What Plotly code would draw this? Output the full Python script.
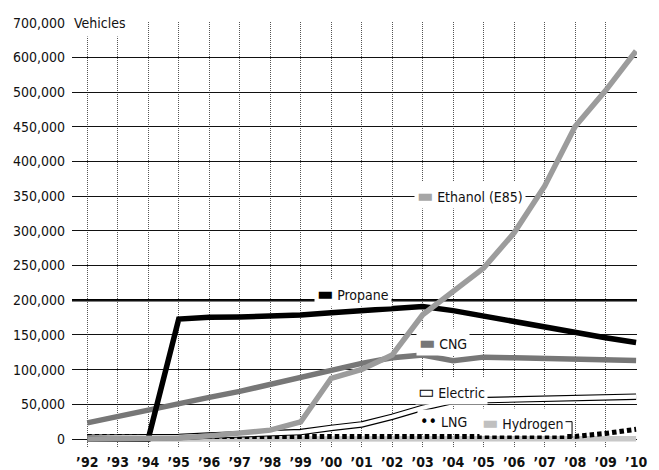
import plotly.graph_objects as go

# ---------------- data ----------------
years = list(range(1992, 2011))
year_labels = ["’92", "’93", "’94", "’95", "’96", "’97", "’98", "’99", "’00", "’01",
               "’02", "’03", "’04", "’05", "’06", "’07", "’08", "’09", "’10"]

propane = [0, 0, 0, 172800, 175500, 176000, 177200, 178600, 182000, 185000,
           187700, 191000, 185000, 177000, 168000, 161000, 154000, 146000, 139000]
cng = [23200, 32700, 41200, 50200, 60100, 68600, 78800, 89000, 98000, 109000,
       117000, 121000, 113000, 118000, 117000, 116000, 115000, 114000, 113000]
ethanol = [172, 441, 605, 1527, 4536, 9130, 12788, 24604, 87570, 100303,
           120951, 179090, 211800, 246363, 297099, 364384, 450327, 504297, 618505]
electric = [2000, 2000, 2500, 3000, 5000, 7000, 8000, 10000, 16000, 21000,
            32000, 45000, 55000, 56000, 57000, 58000, 59000, 60000, 61000]
lng = [3500, 3500, 3500, 3500, 3500, 3500, 3500, 3500, 3500, 3500,
       3500, 3500, 3500, 3500, 3500, 3600, 3800, 8000, 14000]
hydrogen = [0, 0, 0, 0, 0, 0, 0, 0, 0, 0,
            0, 9, 119, 159, 223, 313, 357, 357, 421]

y_tick_values = [0, 50000, 100000, 150000, 200000, 250000, 300000, 350000,
                 400000, 450000, 500000, 600000, 700000]
y_tick_labels = ["0", "50,000", "100,000", "150,000", "200,000", "250,000", "300,000",
                 "350,000", "400,000", "450,000", "500,000", "600,000", "700,000"]


def scale(v):
    """Axis scale of the original: 50,000 per gridline up to 500,000, 100,000 above."""
    if v <= 500000:
        return v / 50000.0
    return 10.0 + (v - 500000) / 100000.0


def sc(values):
    return [scale(v) for v in values]


FONT = "DejaVu Sans Condensed, Liberation Sans Narrow, sans-serif"

fig = go.Figure()


def add_line(values, color, width, dash="solid"):
    fig.add_trace(go.Scatter(x=years, y=sc(values), mode="lines",
                             line=dict(color=color, width=width, dash=dash),
                             hoverinfo="skip", showlegend=False))


add_line(hydrogen, "#c8c8c8", 5.5)
add_line(lng, "#000000", 5, "4.5px,3px")
add_line(electric, "#000000", 6.5)
add_line(electric, "#ffffff", 4.2)
add_line(cng, "#777777", 5.5)
add_line(propane, "#000000", 5.5)
add_line(ethanol, "#9c9c9c", 5.5)

# thicker 200,000 line as in the original
fig.add_shape(type="line", xref="paper", x0=0, x1=1, yref="y",
              y0=scale(200000), y1=scale(200000),
              line=dict(color="#000", width=2.6), layer="below")

# leader from the Hydrogen label down to its line
fig.add_shape(type="path", xref="x", yref="y",
              path=f"M 2007.62,{scale(25000)} L 2007.9,{scale(25000)} L 2007.9,{scale(1500)}",
              line=dict(color="#000", width=1))


def label(x, y, text):
    fig.add_annotation(x=x, y=y, xref="x", yref="y", text=text, showarrow=False,
                       xanchor="left", yanchor="middle", bgcolor="white", borderpad=2,
                       font=dict(family=FONT, size=14, color="#111"))


SAMPLE = "<span style='color:{c};font-size:19px'>{g}</span> "
label(1999.45, scale(210000), SAMPLE.format(c="#000", g="▬") + "Propane")
label(2002.72, scale(352000), SAMPLE.format(c="#a6a6a6", g="▬") + "Ethanol (E85)")
label(2002.78, scale(140000), SAMPLE.format(c="#777", g="▬") + "CNG")
label(2002.76, scale(69000), SAMPLE.format(c="#000", g="▭") + "Electric")
label(2002.8, scale(25000), "<span style='color:#000;font-size:16px'>••</span> LNG")
label(2004.85, scale(25000), SAMPLE.format(c="#c0c0c0", g="▬") + "Hydrogen")

fig.add_annotation(x=1991.5, y=scale(700000), xref="x", yref="y", text="Vehicles",
                   showarrow=False, xanchor="left", yanchor="middle", bgcolor="white",
                   borderpad=5, xshift=-4, font=dict(family=FONT, size=14, color="#111"))

fig.update_layout(
    template="none",
    width=659, height=470,
    margin=dict(l=72, r=22, t=22, b=23),
    paper_bgcolor="white", plot_bgcolor="white",
    font=dict(family=FONT, size=14, color="#111"),
    xaxis=dict(range=[1991.5, 2010.03], tickmode="array", tickvals=years, ticktext=year_labels,
               showgrid=True, gridcolor="#555", gridwidth=1, griddash="1px,1px",
               zeroline=False, showline=False, ticks="", ticklabelstandoff=5,
               automargin=False,
               tickfont=dict(family=FONT, size=14, color="#111", weight="bold")),
    yaxis=dict(range=[-0.23, 12.02], tickmode="array", tickvals=sc(y_tick_values),
               ticktext=y_tick_labels, showgrid=True, gridcolor="#111", gridwidth=1.3,
               zeroline=False, showline=False, ticks="", ticklabelstandoff=6,
               automargin=False,
               tickfont=dict(family=FONT, size=14, color="#111")),
)

fig.write_html("out.html", config={"displayModeBar": False},
               post_script="document.body.style.margin='0';")
